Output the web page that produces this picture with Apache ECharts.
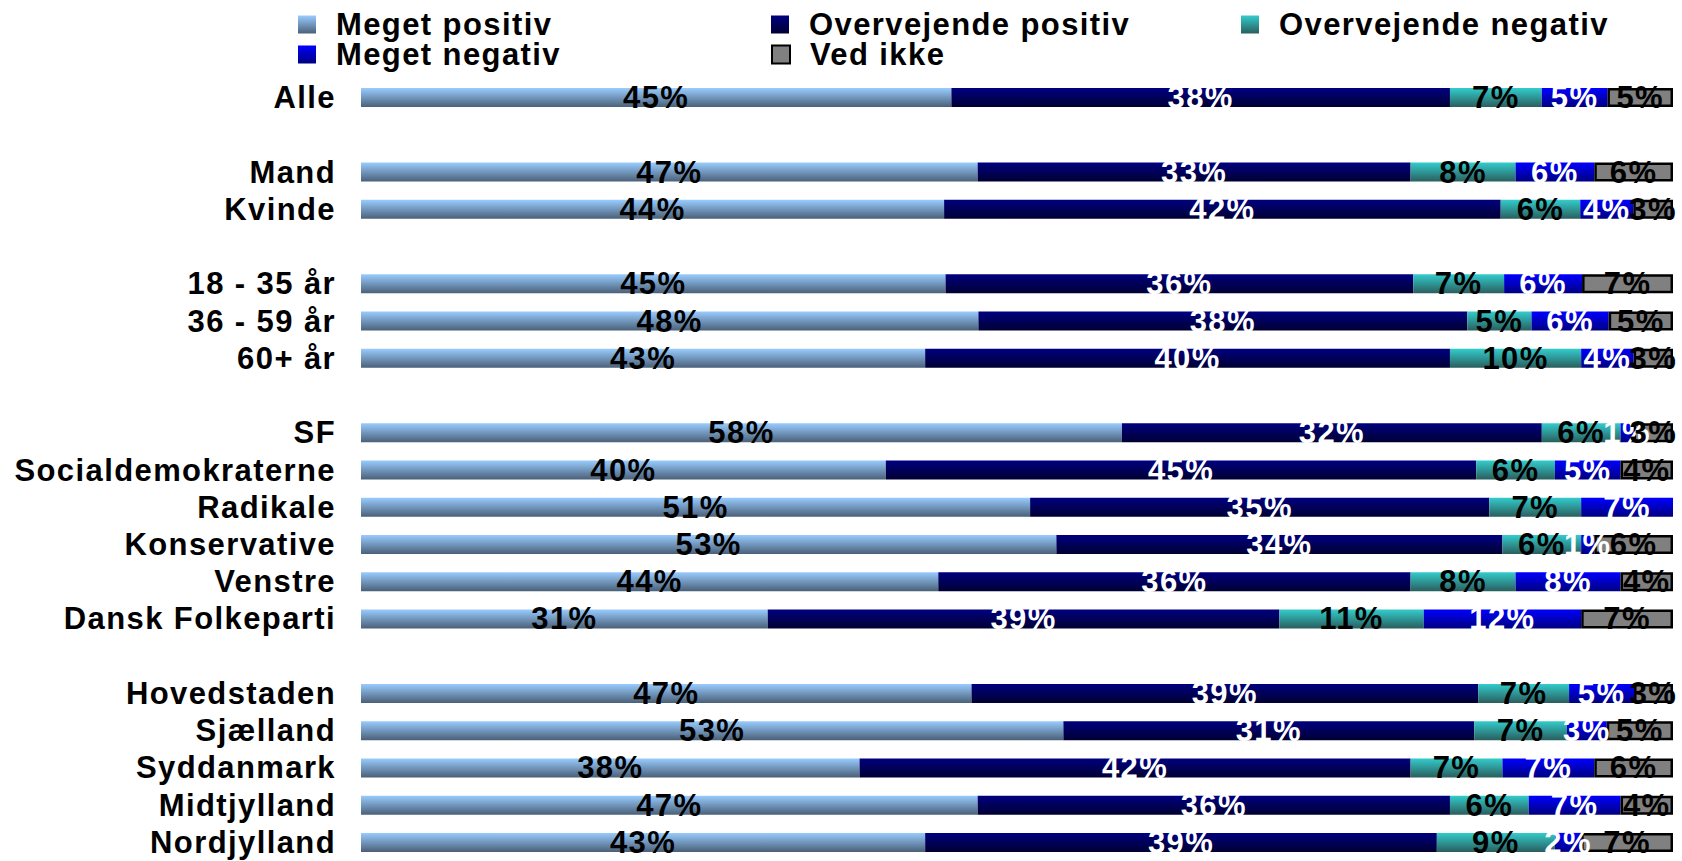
<!DOCTYPE html>
<html>
<head>
<meta charset="utf-8">
<script src="https://cdn.jsdelivr.net/npm/echarts@6/dist/echarts.min.js"></script>
<style>
html,body{margin:0;padding:0;background:#fff;}
#chart{width:1682px;height:861px;}
#chart svg text{letter-spacing:1.4px;}
</style>
</head>
<body>
<div id="chart"></div>
<script>
const categories = ['Alle',' ','Mand','Kvinde','  ','18 - 35 år','36 - 59 år','60+ år','   ','SF','Socialdemokraterne','Radikale','Konservative','Venstre','Dansk Folkeparti','    ','Hovedstaden','Sjælland','Syddanmark','Midtjylland','Nordjylland'];
const seriesNames = ['Meget positiv','Overvejende positiv','Overvejende negativ','Meget negativ','Ved ikke'];
const megetPositiv       = [45,null,47,44,null,45,48,43,null,58,40,51,53,44,31,null,47,53,38,47,43];
const overvejendePositiv = [38,null,33,42,null,36,38,40,null,32,45,35,34,36,39,null,39,31,42,36,39];
const overvejendeNegativ = [7,null,8,6,null,7,5,10,null,6,6,7,6,8,11,null,7,7,7,6,9];
const megetNegativ       = [5,null,6,4,null,6,6,4,null,1,5,7,1,8,12,null,5,3,7,7,2];
const vedIkke            = [5,null,6,3,null,7,5,3,null,3,4,0,6,4,7,null,3,5,6,4,7];

const raw = [megetPositiv, overvejendePositiv, overvejendeNegativ, megetNegativ, vedIkke];
const totals = categories.map((c,i)=>raw.reduce((s,a)=>s+(a[i]||0),0));

const FONT = "'Liberation Sans', Arial, sans-serif";
const G = echarts.graphic.LinearGradient;
const styles = [
  {color:new G(0,0,0,1,[{offset:0,color:'#99CCFF'},{offset:1,color:'#4A6078'}]), label:'#000'},
  {color:new G(0,0,0,1,[{offset:0,color:'#000080'},{offset:1,color:'#000033'}]), label:'#fff'},
  {color:new G(0,0,0,1,[{offset:0,color:'#33CCCC'},{offset:1,color:'#2A5E5E'}]), label:'#000'},
  {color:new G(0,0,0,1,[{offset:0,color:'#0000FF'},{offset:1,color:'#000080'}]), label:'#fff'},
  {color:'#808080', label:'#000', border:true}
];

const series = raw.map((arr,k)=>({
  name: seriesNames[k],
  type:'bar',
  stack:'all',
  barWidth:19,
  data: arr.map((v,i)=> (v==null||v===0) ? null : {value: v/totals[i]*100, raw: v}),
  itemStyle: Object.assign({color: styles[k].color}, styles[k].border ? {borderColor:'#000',borderWidth:2.5} : {}),
  label:{
    show:true, position:'inside', color: styles[k].label,
    fontFamily:FONT, fontWeight:'bold', fontSize:31,
    formatter: p => p.data && p.data.raw != null ? p.data.raw + '%' : ''
  },
  emphasis:{disabled:true}
}));

const legendPos = [[298,9],[771,9],[1241,9],[298,39],[771,39]];
const legends = seriesNames.map((n,k)=>({
  data:[n], left:legendPos[k][0], top:legendPos[k][1], padding:0,
  itemWidth:18, itemHeight:18,
  icon:'rect',
  textStyle:{fontFamily:FONT, fontWeight:'bold', fontSize:31, color:'#000', lineHeight:29, padding:[0,0,0,15]}
}));

const chart = echarts.init(document.getElementById('chart'), null, {renderer:'svg'});
chart.setOption({
  animation:false,
  backgroundColor:'#fff',
  legend: legends,
  grid:{left:361, right:9, top:79, height:784, containLabel:false},
  xAxis:{type:'value', min:0, max:100, show:false},
  yAxis:{type:'category', inverse:true, data:categories,
    axisLine:{show:false}, axisTick:{show:false}, splitLine:{show:false},
    axisLabel:{margin:25, color:'#000', fontFamily:FONT, fontWeight:'bold', fontSize:31, interval:0}},
  series: series
});
</script>
</body>
</html>
